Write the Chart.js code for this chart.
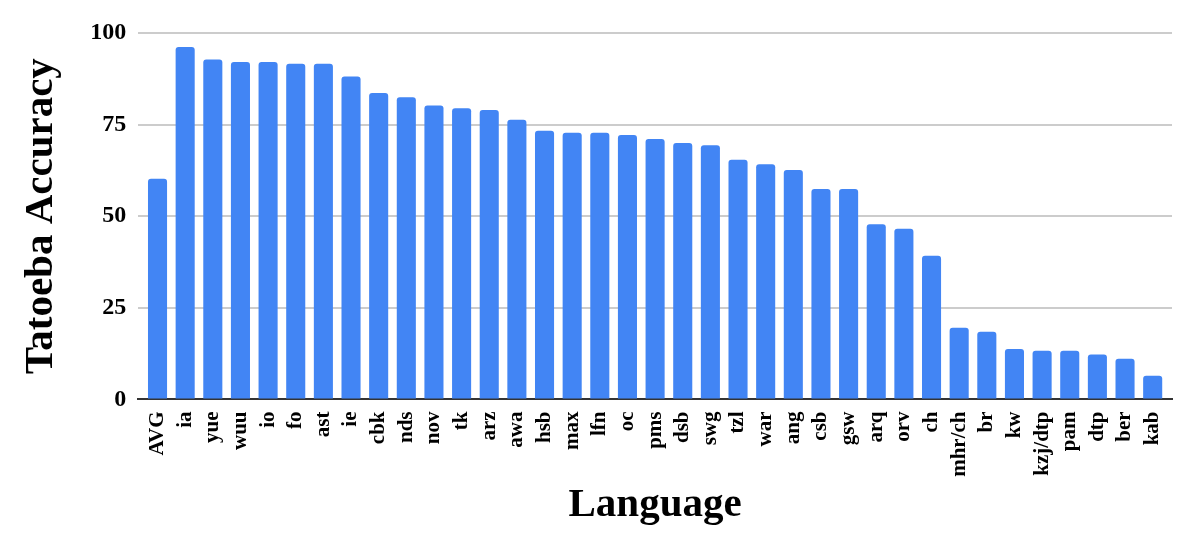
<!DOCTYPE html>
<html>
<head>
<meta charset="utf-8">
<script src="https://cdn.jsdelivr.net/npm/chart.js@4/dist/chart.umd.min.js"></script>
<style>
html,body{margin:0;padding:0;background:#fff;}
#wrap{width:1196px;height:546px;position:relative;}
</style>
</head>
<body>
<div id="wrap"><canvas id="c" width="1196" height="546"></canvas></div>
<script>
const languages = ["AVG","ia","yue","wuu","io","fo","ast","ie","cbk","nds","nov","tk","arz","awa","hsb","max","lfn","oc","pms","dsb","swg","tzl","war","ang","csb","gsw","arq","orv","ch","mhr/ch","br","kw","kzj/dtp","pam","dtp","ber","kab"];
const accuracy = [60.2,96.2,92.8,92.1,92.1,91.6,91.6,88.1,83.6,82.5,80.2,79.5,79.0,76.3,73.3,72.8,72.8,72.2,71.1,70.0,69.4,65.4,64.2,62.6,57.4,57.4,47.8,46.6,39.2,19.6,18.5,13.8,13.3,13.3,12.3,11.1,6.5];
const yTicks = [0,25,50,75,100];
const xTitle = "Language";
const yTitle = "Tatoeba Accuracy";

// Category scale with a little inner padding at both ends of the axis (idempotent)
class PaddedCategory extends Chart.CategoryScale {
  configure() {
    super.configure();
    const padPx = this.options.innerPad || 0;
    const len = this.right - this.left;
    const baseRange = (this.max - this.min) + 1;   // offset: true
    const baseStart = this.min - 0.5;
    if (padPx > 0 && len > 2 * padPx) {
      const newRange = baseRange * len / (len - 2 * padPx);
      this._startValue = baseStart - (newRange - baseRange) / 2;
      this._valueRange = newRange;
    }
  }
}
PaddedCategory.id = 'paddedCategory';
PaddedCategory.defaults = Chart.CategoryScale.defaults;
Chart.register(PaddedCategory);

const serif = "'Liberation Serif', 'Times New Roman', serif";
new Chart(document.getElementById('c'), {
  type: 'bar',
  data: {
    labels: languages,
    datasets: [{
      data: accuracy,
      backgroundColor: '#4285F4',
      borderRadius: {topLeft: 3, topRight: 3, bottomLeft: 0, bottomRight: 0},
      borderSkipped: false,
      categoryPercentage: 1.0,
      barPercentage: 0.69
    }]
  },
  options: {
    responsive: false,
    animation: false,
    devicePixelRatio: 1,
    layout: {padding: {top: 33, right: 24, bottom: 16, left: 17}},
    plugins: {legend: {display: false}, tooltip: {enabled: false}},
    scales: {
      x: {
        type: 'paddedCategory',
        innerPad: 5.5,
        offset: true,
        grid: {display: false},
        border: {display: true, color: '#333333', width: 2},
        ticks: {
          color: '#000',
          font: {family: serif, weight: 'bold', size: 21},
          maxRotation: 90, minRotation: 90, autoSkip: false, padding: 4
        },
        title: {display: true, text: xTitle, color: '#000',
          font: {family: serif, weight: 'bold', size: 41}, padding: {top: 0, bottom: 0}}
      },
      y: {
        min: 0, max: 100,
        afterBuildTicks: (s) => { s.ticks = yTicks.map(v => ({value: v})); },
        grid: {color: '#cccccc', lineWidth: 2, drawTicks: false},
        border: {display: false},
        ticks: {
          color: '#000',
          font: {family: serif, weight: 'bold', size: 24},
          padding: 12
        },
        title: {display: true, text: yTitle, color: '#000',
          font: {family: serif, weight: 'bold', size: 41}, padding: {top: 0, bottom: 12}}
      }
    }
  }
});
</script>
</body>
</html>
